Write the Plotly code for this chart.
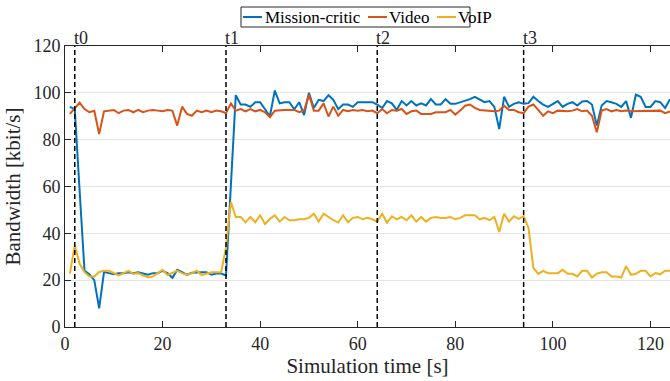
import plotly.graph_objects as go

# ---------------- data ----------------
time_s = list(range(1, 125))

mission_critic = [
    94, 93, 58, 24, 22.5, 20, 8, 23.5, 23, 22.5,
    23, 23, 23.4, 23, 23.4, 23, 22.3, 23, 23, 24,
    23, 21, 24.4, 23.4, 22.3, 23.2, 23.4, 23.4, 23.4, 22.3,
    22.8, 22.8, 22, 60, 99, 95, 95, 94, 96, 96,
    93, 90, 101, 95.5, 96, 96, 93, 96, 90.5, 100,
    93.5, 97, 96.5, 99, 97, 93, 95, 95, 94, 96,
    96, 96, 96, 95, 93.5, 96.5, 95.5, 92.7, 96.5, 94.6,
    96.5, 94.6, 95.5, 94.6, 97.3, 95, 95, 97.3, 95.3, 95.3,
    96, 96.5, 97.3, 98.3, 97.3, 96, 96.5, 94, 84.5, 98.3,
    94, 95.3, 96, 95.3, 95.6, 98.3, 96.5, 95, 94, 95.3,
    96.5, 94, 95.3, 96, 94.6, 96.3, 96.5, 95, 86, 94.6,
    96.5, 96, 95.3, 94, 96.5, 89.3, 99.2, 98.3, 94, 94,
    96.5, 96, 93.5, 97.3,
]

video = [
    91, 93.5, 95.8, 93.1, 91.7, 92.3, 82.4, 92.1, 92.4, 92.7,
    91.3, 92.4, 92.7, 91.7, 92.7, 91.7, 92.4, 92.7, 92.4, 92.1,
    92.7, 92.4, 86, 94.1, 91, 90.2, 92.4, 91.7, 92.4, 91.7,
    92.4, 92.1, 91.3, 95.5, 92.4, 93.1, 92.1, 93.1, 92.1, 92.7,
    91.7, 89.6, 92.4, 92.7, 92.7, 92.7, 92.7, 91.7, 92.4, 99.2,
    92.4, 92.4, 95.5, 89.9, 94.1, 90.2, 92.7, 92.1, 92.7, 92.4,
    92.7, 92.1, 92.4, 91.3, 93.1, 91.3, 92.7, 92.4, 93.1, 91,
    92.1, 92.4, 91, 91, 91, 91.7, 91.7, 91.7, 92.7, 90.7,
    92.4, 94.5, 95, 93.6, 92.7, 92.4, 92.1, 92.1, 92.4, 94.5,
    92.7, 92.7, 91.7, 91.3, 94.1, 95, 92.7, 90.2, 92.1, 91.3,
    92.4, 92.1, 92.1, 92.4, 93.1, 92.1, 92.4, 90.2, 83.2, 92.4,
    93.1, 92.1, 92.7, 92.1, 92.4, 92.1, 92.1, 92.1, 92.1, 92.1,
    92.1, 92.4, 91.3, 92.1,
]

voip = [
    22.8, 34.8, 27, 23.4, 21.6, 21.6, 23.5, 24, 24, 23,
    22, 23, 24, 22.7, 23, 22, 21.3, 21.6, 23, 24.4,
    22.2, 23, 24, 23, 22.2, 23, 24, 22.2, 22.7, 23.4,
    23.4, 23.4, 34, 53.4, 47, 47, 44.7, 47, 44.7, 47.7,
    44, 46.2, 47.7, 45, 47, 45.6, 45.6, 46, 46, 46.6,
    48.4, 45, 48.4, 47, 45.6, 44.6, 47.7, 44.7, 46.6, 47,
    46, 46.6, 46, 45, 48.4, 44.6, 47.3, 46, 47, 45.6,
    47.7, 45, 47, 45, 46.6, 47, 46.6, 46.6, 47, 46,
    46.6, 47.7, 47.7, 47.7, 46, 46.6, 45.6, 47, 40.6, 48.4,
    45, 47.3, 46.2, 47.3, 42.3, 25.2, 22.7, 24, 23, 23,
    23, 24.4, 22.7, 22.7, 21.6, 24, 24, 21.1, 22.8, 23.4,
    23.4, 21.6, 21.6, 21.1, 26, 22.3, 22.7, 24, 24, 21.6,
    23, 22.5, 24, 24,
]

event_times = [2, 33, 64, 94]
event_labels = ["t0", "t1", "t2", "t3"]

series_names = ["Mission-critic", "Video", "VoIP"]
series_colors = ["#0072BD", "#D95319", "#EDB120"]

x_ticks = [0, 20, 40, 60, 80, 100, 120]
y_ticks = [0, 20, 40, 60, 80, 100, 120]

# ---------------- figure ----------------
W, H = 670, 381
ML, MR, MT, MB = 65, 0, 46, 54
PW, PH = W - ML - MR, H - MT - MB
FONT = "Liberation Serif"
AX = "#262626"


def px2paper_x(X):
    return (X - ML) / PW


def px2paper_y(Y):
    return (H - MB - Y) / PH


fig = go.Figure()
for name, col, vals in zip(series_names, series_colors,
                           [mission_critic, video, voip]):
    fig.add_trace(go.Scatter(x=time_s, y=vals, mode="lines", name=name,
                             line=dict(color=col, width=2),
                             showlegend=False))

# event dashed lines and labels
for t, lab in zip(event_times, event_labels):
    fig.add_shape(type="line", xref="x", yref="paper", x0=t, x1=t, y0=0, y1=1,
                  line=dict(color="black", width=1.5, dash="5px,3px"))
    fig.add_annotation(x=t, y=1, xref="x", yref="paper", text=lab,
                       showarrow=False, xanchor="left", yanchor="bottom",
                       xshift=-3, yshift=-4,
                       font=dict(family=FONT, size=18, color="#262626"))

# custom legend
lx0, lx1, ly0, ly1 = 241, 470, 7, 27
fig.add_shape(type="rect", xref="paper", yref="paper",
              x0=px2paper_x(lx0), x1=px2paper_x(lx1),
              y0=px2paper_y(ly1), y1=px2paper_y(ly0),
              line=dict(color=AX, width=1), fillcolor="white")
legend_items = [(243, 262, 264), (368, 387, 388), (437, 456, 457)]
ly = 17
for (a, b, tx), name, col in zip(legend_items, series_names, series_colors):
    fig.add_shape(type="line", xref="paper", yref="paper",
                  x0=px2paper_x(a), x1=px2paper_x(b),
                  y0=px2paper_y(ly), y1=px2paper_y(ly),
                  line=dict(color=col, width=2))
    fig.add_annotation(x=px2paper_x(tx), y=px2paper_y(ly), xref="paper",
                       yref="paper", text=name, showarrow=False,
                       xanchor="left", yanchor="middle", borderpad=0,
                       font=dict(family=FONT, size=17, color="black"))

fig.update_layout(
    width=W, height=H,
    margin=dict(l=ML, r=MR, t=MT, b=MB, autoexpand=False),
    paper_bgcolor="white", plot_bgcolor="white",
    font=dict(family=FONT, size=18, color=AX),
    showlegend=False,
)
fig.update_xaxes(
    range=[0, 124], tickvals=x_ticks, ticks="inside", ticklen=6,
    tickcolor=AX, showline=True, linecolor=AX, linewidth=1, mirror="ticks",
    showgrid=False, zeroline=False,
    tickfont=dict(family=FONT, size=18, color=AX),
    title=dict(text="Simulation time [s]", standoff=5,
               font=dict(family=FONT, size=21, color=AX)),
)
fig.update_yaxes(
    range=[0, 120], tickvals=y_ticks, ticks="inside", ticklen=6,
    tickcolor=AX, showline=True, linecolor=AX, linewidth=1,
    showgrid=True, gridcolor="#e4e4e4", gridwidth=1, zeroline=False,
    tickfont=dict(family=FONT, size=18, color=AX),
    title=dict(text="Bandwidth [kbit/s]", standoff=7,
               font=dict(family=FONT, size=21, color=AX)),
)

fig.write_html("out.html")
